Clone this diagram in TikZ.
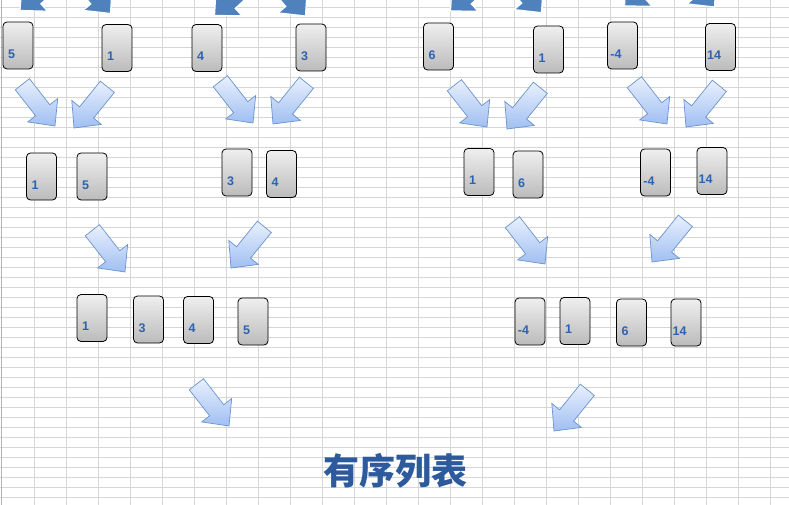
\documentclass[tikz,border=0pt]{standalone}
\usepackage{fontspec}
\setmainfont{Liberation Sans}
\newfontfamily\cjkfont{Noto Sans CJK SC}
\usetikzlibrary{arrows.meta,positioning}

\definecolor{gridgray}{HTML}{D6D6D6}
\definecolor{cardtop}{HTML}{EFEFEF}
\definecolor{cardbot}{HTML}{BBBBBB}
\definecolor{numblue}{HTML}{2D62B0}
\definecolor{arrtop}{HTML}{E9F0FD}
\definecolor{arrbot}{HTML}{A0BFF2}
\definecolor{arrline}{HTML}{6A94CE}
\definecolor{arrdark}{HTML}{4F81BD}
\definecolor{titleblue}{HTML}{2C5A9C}

\tikzset{
  blockarrow/.pic={
    \path[pic actions] (0,0) -- (-20,-19) -- (-20,-9) -- (-53,-9) -- (-53,9)
      -- (-20,9) -- (-20,19) -- cycle;
  }
}

\begin{document}
\begin{tikzpicture}[
  x=1pt, y=-1pt,
  gridline/.style={draw=gridgray, line width=0.9pt},
  card/.style={draw=black, line width=0.8pt, rounded corners=4pt,
    top color=cardtop, bottom color=cardbot,
    minimum width=30pt, minimum height=47pt, inner sep=0pt},
  num/.style={anchor=base west, xshift=-6.5pt, yshift=-8.5pt, inner sep=0pt,
    text=numblue, font=\fontsize{12.5}{12.5}\selectfont\bfseries},
  lightarr/.style={draw=arrline, line width=0.7pt, top color=arrtop, bottom color=arrbot},
  darkarr/.style={fill=arrdark, draw=white, line width=1.2pt},
  title/.style={font=\cjkfont\bfseries\fontsize{36}{36}\selectfont, text=titleblue}
]
\useasboundingbox (0,0) rectangle (789,505);
\clip (0,0) rectangle (789,505);
\fill[white] (0,0) rectangle (789,505);

% spreadsheet grid
\foreach \k in {1,...,24}
  \draw[gridline] ({2.5+32*\k},0) -- ({2.5+32*\k},505);
\foreach \k in {0,...,49}
  \draw[gridline] (0,{7+10*\k}) -- (789,{7+10*\k});
\draw[draw=gray!60, line width=1pt] (1.5,0) -- (1.5,505);

% arrows coming in from above
\pic[darkarr, rotate=-138] at (20,10.5) {blockarrow};
\pic[darkarr, rotate=-50] at (110.5,13.5) {blockarrow};
\pic[darkarr, rotate=-137] at (214.5,15.5) {blockarrow};
\pic[darkarr, rotate=-50] at (305.5,16) {blockarrow};
\pic[darkarr, rotate=-137] at (450.5,11) {blockarrow};
\pic[darkarr, rotate=-50] at (541.5,12.7) {blockarrow};
\pic[darkarr, rotate=-137] at (624.5,6) {blockarrow};
\pic[darkarr, rotate=-50] at (714.5,7) {blockarrow};

% single cards
\node[card, label={[num]center:5}] (s5) at (18,45.5) {};
\node[card, label={[num]center:1}] (s1) at (117,48) {};
\node[card, label={[num]center:4}] (s4) at (207,48) {};
\node[card, label={[num]center:3}] (s3) at (311,47.5) {};
\node[card, label={[num]center:6}] (s6) at (438.5,46.5) {};
\node[card, label={[num]center:1}] (s1b) at (548.5,49.5) {};
\node[card, label={[num]center:-4}] (sm4) at (622.5,45.5) {};
\node[card, label={[num]center:14}] (s14) at (720.5,47) {};

% first merge
\pic[lightarr, rotate=-52] at (55,126) {blockarrow};
\pic[lightarr, rotate=-129] at (74,128) {blockarrow};
\pic[lightarr, rotate=-52] at (253,123) {blockarrow};
\pic[lightarr, rotate=-129] at (273,124) {blockarrow};
\pic[lightarr, rotate=-52] at (487,127) {blockarrow};
\pic[lightarr, rotate=-129] at (507,129) {blockarrow};
\pic[lightarr, rotate=-52] at (667,124) {blockarrow};
\pic[lightarr, rotate=-129] at (686,127) {blockarrow};

% pairs
\node[card, label={[num]center:1}] (pa1) at (41.5,176.5) {};
\node[card, label={[num]center:5}] (pa2) at (92,176.5) {};
\node[card, label={[num]center:3}] (pb1) at (237,172.5) {};
\node[card, label={[num]center:4}] (pb2) at (281.5,174) {};
\node[card, label={[num]center:1}] (pc1) at (479,172) {};
\node[card, label={[num]center:6}] (pc2) at (528,174.5) {};
\node[card, label={[num]center:-4}] (pd1) at (655.5,172.5) {};
\node[card, label={[num]center:14}] (pd2) at (712,171) {};

% second merge
\pic[lightarr, rotate=-52] at (125,272) {blockarrow};
\pic[lightarr, rotate=-129] at (231,268) {blockarrow};
\pic[lightarr, rotate=-52] at (545,264) {blockarrow};
\pic[lightarr, rotate=-129] at (652,262) {blockarrow};

% quadruples
\node[card, label={[num]center:1}] (qa1) at (92,318) {};
\node[card, label={[num]center:3}] (qa2) at (148.5,319.5) {};
\node[card, label={[num]center:4}] (qa3) at (198.5,320) {};
\node[card, label={[num]center:5}] (qa4) at (253,321.5) {};
\node[card, label={[num]center:-4}] (qb1) at (530,321.5) {};
\node[card, label={[num]center:1}] (qb2) at (575,321) {};
\node[card, label={[num]center:6}] (qb3) at (631.5,322.5) {};
\node[card, label={[num]center:14}] (qb4) at (686,322.5) {};

% final merge
\pic[lightarr, rotate=-52] at (229,426) {blockarrow};
\pic[lightarr, rotate=-129] at (554,431) {blockarrow};

\node[title] (heading) at (395,471) {有序列表};
\end{tikzpicture}
\end{document}
